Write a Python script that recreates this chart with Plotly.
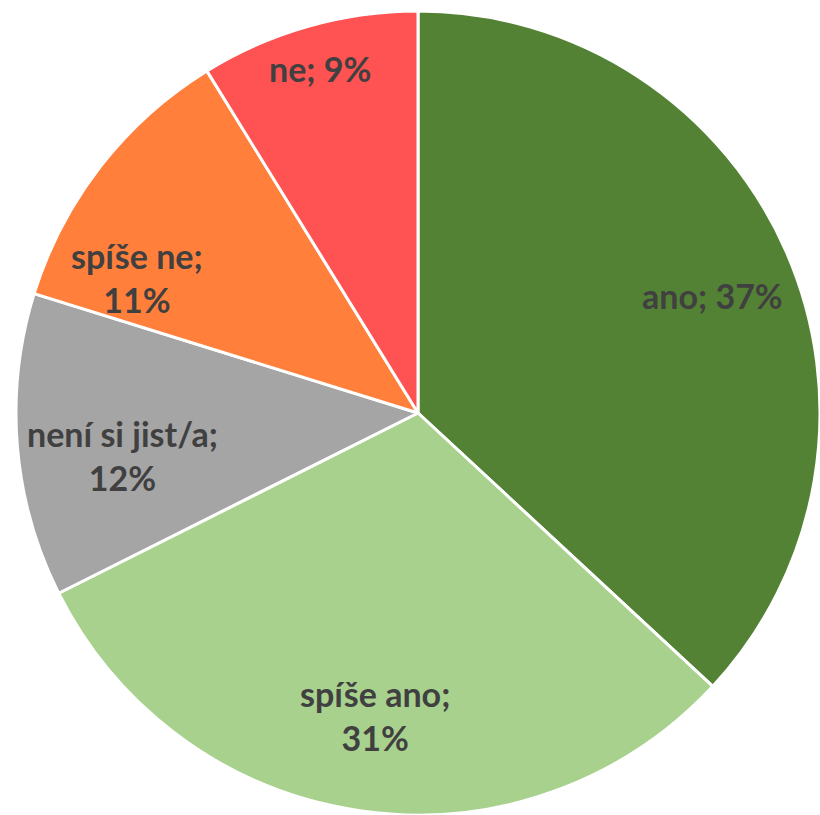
import math
import plotly.graph_objects as go

# Data (shares; labels show rounded percentages)
categories = ["ano", "spíše ano", "není si jist/a", "spíše ne", "ne"]
values = [36.9, 30.7, 12.2, 11.4, 8.8]
label_texts = ["ano; 37%", "spíše ano;<br>31%", "není si jist/a;<br>12%", "spíše ne;<br>11%", "ne; 9%"]

# Styles
colors = ["#548235", "#A9D18E", "#A5A5A5", "#FF7F3B", "#FF5252"]
label_radius = [0.79, 0.759, 0.742, 0.775, 0.89]
label_angle_offset = [1.8, 0, -3.5, -12.1, 0]  # degrees, label nudges like Excel best-fit

W, H = 820, 815
cx_px, cy_px, R_px = 418, 413, 402
dom_x = [(cx_px - R_px) / W, (cx_px + R_px) / W]
dom_y = [1 - (cy_px + R_px) / H, 1 - (cy_px - R_px) / H]

fig = go.Figure(go.Pie(
    labels=categories,
    values=values,
    sort=False,
    direction="clockwise",
    rotation=0,
    marker=dict(colors=colors, line=dict(color="white", width=3)),
    textinfo="none",
    hoverinfo="label+percent",
    domain=dict(x=dom_x, y=dom_y),
    showlegend=False,
))

total = sum(values)
cum = 0
annotations = []
for v, txt, rf, da in zip(values, label_texts, label_radius, label_angle_offset):
    mid = (cum + v / 2) / total * 2 * math.pi + math.radians(da)
    cum += v
    x = (cx_px + rf * R_px * math.sin(mid)) / W
    y = 1 - (cy_px - rf * R_px * math.cos(mid)) / H
    annotations.append(dict(
        x=x, y=y, xref="paper", yref="paper", text=f"<b>{txt}</b>",
        showarrow=False, xanchor="center", yanchor="middle",
        font=dict(family="Lato", size=34, color="#404040"), align="center",
    ))

fig.update_layout(
    width=W, height=H,
    margin=dict(l=0, r=0, t=0, b=0),
    paper_bgcolor="white", plot_bgcolor="white",
    annotations=annotations,
)

fig.write_html(
    "out.html",
    config={"displayModeBar": False},
    post_script="document.body.style.margin='0px';document.body.style.overflow='hidden';",
)
